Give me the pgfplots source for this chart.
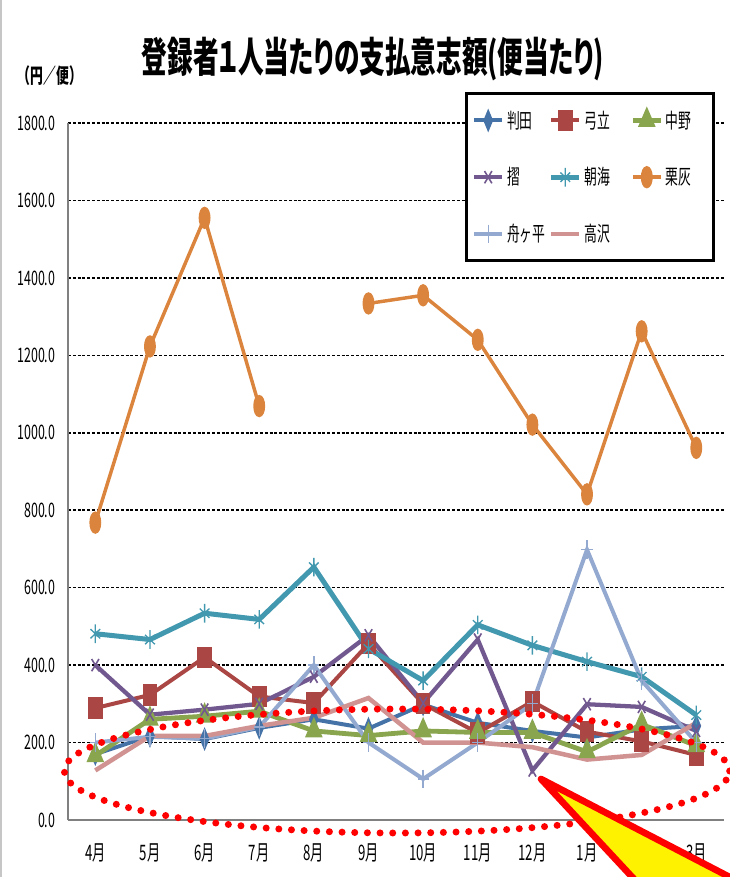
\documentclass[border=0pt]{standalone}
\usepackage{fontspec}
\usepackage{pgfplots}
\pgfplotsset{compat=1.18}
\newfontfamily\lbl[FakeStretch=0.62]{Noto Sans CJK JP}
\newfontfamily\ttl[FakeStretch=0.62,RawFeature=+palt]{Noto Sans CJK JP}

\definecolor{hanta}{HTML}{4572A7}
\definecolor{yumitate}{HTML}{AA4643}
\definecolor{nakano}{HTML}{89A54E}
\definecolor{suri}{HTML}{71588F}
\definecolor{asami}{HTML}{4198AF}
\definecolor{kuribai}{HTML}{DB843D}
\definecolor{funa}{HTML}{93A9CF}
\definecolor{takasawa}{HTML}{D19392}

\begin{document}
\begin{tikzpicture}
% page frame
\path[use as bounding box] (-51pt,-42.75pt) rectangle (496.5pt,615pt);
\draw[gray!45, line width=1.5pt] (-50.25pt,-42.75pt) -- (-50.25pt,615pt);

\begin{axis}[
  at={(0pt,0pt)}, anchor=south west,
  scale only axis, width=491.7pt, height=522.75pt,
  xmin=-0.5, xmax=11.5, ymin=0, ymax=1800,
  axis x line*=bottom, axis y line*=left,
  axis line style={draw=gray, line width=2pt},
  xtick={0,...,11},
  xticklabels={4月,5月,6月,7月,8月,9月,10月,11月,12月,1月,2月,3月},
  ytick={0,200,...,1800},
  ymajorgrids,
  grid style={black, line width=1.2pt, dash pattern=on 2.2pt off 1.4pt},
  major tick length=0pt,
  /pgf/number format/assume math mode=true,
  yticklabel={\pgfmathprintnumber[fixed,fixed zerofill,precision=1,set thousands separator={}]{\tick}},
  yticklabel style={font=\lbl\fontsize{15}{15}\selectfont, anchor=east, xshift=-6pt},
  xticklabel style={font=\lbl\fontsize{16}{16}\selectfont, anchor=north, yshift=-14pt},
  unbounded coords=jump,
  legend columns=3,
  legend cell align=left,
  legend image code/.code={\draw[mark repeat=2,mark phase=2] plot coordinates {(0pt,0pt) (10.5pt,0pt) (21pt,0pt)};},
  legend style={at={(0.9869,1.0445)}, anchor=north east,
    draw=black, line width=2.25pt, fill=white,
    inner xsep=4.5pt, inner ysep=11pt, row sep=24pt,
    font=\lbl\fontsize{15.5}{15.5}\selectfont,
    /tikz/every even column/.append style={column sep=0.5pt}},
]
% 判田
\addplot[color=hanta, line width=3pt, mark=diamond*, mark size=5pt, mark options={solid, xscale=0.55}]
  coordinates {(0,170)(1,217)(2,209)(3,238)(4,260)(5,236)(6,298)(7,251)(8,230)(9,213)(10,234)(11,243)};
\addlegendentry{判田}
% 弓立 (padded so that the legend columns are evenly spaced)
\addplot[color=yumitate, line width=3pt, mark=square*, mark size=6.5pt, mark options={solid, xscale=0.62}]
  coordinates {(0,289)(1,323)(2,420)(3,319)(4,302)(5,455)(6,300)(7,225)(8,306)(9,228)(10,203)(11,168)};
\addlegendentry{弓立\hspace*{12.75pt}}
% 中野 (the trailing space keeps the legend's right margin)
\addplot[color=nakano, line width=3.6pt, mark=triangle*, mark size=6pt, mark options={solid, xscale=0.75}]
  coordinates {(0,166)(1,260)(2,268)(3,281)(4,230)(5,218)(6,230)(7,226)(8,226)(9,176)(10,247)(11,192)};
\addlegendentry{中野\hspace*{10pt}}
% 摺
\addplot[color=suri, line width=3.2pt, mark=x, mark size=6.5pt, mark options={solid, xscale=0.6, line width=1.2pt}]
  coordinates {(0,400)(1,272)(2,285)(3,300)(4,370)(5,477)(6,302)(7,466)(8,128)(9,299)(10,292)(11,230)};
\addlegendentry{摺}
% 朝海
\addplot[color=asami, line width=3.75pt, mark=asterisk, mark size=7pt, mark options={solid, xscale=0.6, line width=1pt}]
  coordinates {(0,481)(1,466)(2,534)(3,518)(4,653)(5,442)(6,360)(7,504)(8,451)(9,409)(10,370)(11,271)};
\addlegendentry{朝海}
% 栗灰 (no value for August)
\addplot[color=kuribai, line width=2.6pt, mark=*, mark size=7pt, mark options={solid, xscale=0.45}]
  coordinates {(0,768)(1,1223)(2,1555)(3,1069)(4,nan)(5,1334)(6,1355)(7,1240)(8,1021)(9,841)(10,1262)(11,961)};
\addlegendentry{栗灰}
% 舟ヶ平
\addplot[color=funa, line width=3pt, mark=+, mark size=7pt, mark options={solid, xscale=0.6, line width=1pt}]
  coordinates {(0,200)(1,215)(2,210)(3,240)(4,400)(5,200)(6,106)(7,200)(8,300)(9,698)(10,360)(11,200)};
\addlegendentry{舟ヶ平}
% 高沢
\addplot[color=takasawa, line width=3.4pt, mark=none]
  coordinates {(0,128)(1,217)(2,217)(3,243)(4,264)(5,315)(6,200)(7,200)(8,188)(9,156)(10,168)(11,251)};
\addlegendentry{高沢}
\end{axis}

% title and unit
\node[font=\ttl\bfseries\fontsize{31}{31}\selectfont] at (228.75pt,570.75pt) {登録者１人当たりの支払意志額(便当たり)};
\node[font=\lbl\bfseries\fontsize{15.5}{15.5}\selectfont] at (-13.5pt,558pt) {（円／便）};

% highlight of the low-value group and the pointer
\begin{scope}
\clip (-51pt,-42.75pt) rectangle (496.5pt,615pt);
\draw[red, line width=5.25pt, line cap=round, dash pattern=on 0pt off 9.5pt]
  (246.75pt,36.75pt) ellipse [x radius=249.5pt, y radius=46.5pt];
\draw[red, line width=5pt, line join=round, fill=yellow]
  (354.75pt,30.75pt) -- (474pt,-97.5pt) -- (601.5pt,-97.5pt) -- cycle;
\end{scope}
\end{tikzpicture}
\end{document}
